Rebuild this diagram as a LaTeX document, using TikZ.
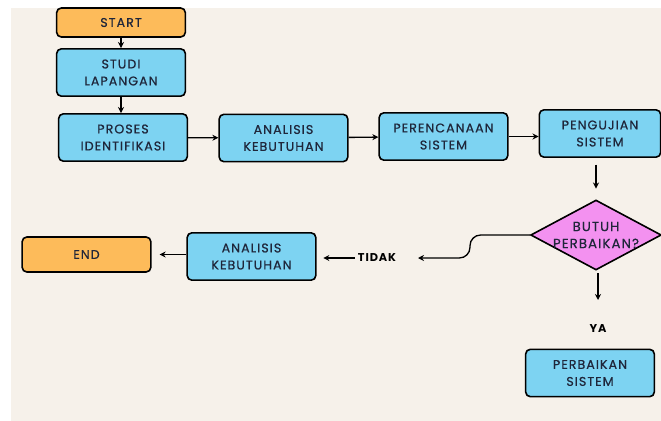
\documentclass[tikz,border=0pt]{standalone}
\usepackage{fontspec}
\setmainfont{Poppins}[LetterSpace=8]
\newfontfamily\boxfont{Poppins}[LetterSpace=8, FakeBold=0.5]
\usetikzlibrary{shapes.geometric,arrows.meta}

\definecolor{bgcream}{RGB}{246,241,234}
\definecolor{boxblue}{RGB}{125,211,242}
\definecolor{boxorange}{RGB}{253,187,90}
\definecolor{boxpink}{RGB}{243,145,240}
\definecolor{inkdark}{RGB}{31,38,58}

\tikzset{every picture/.style={line width=0.75pt}}
\tikzset{
	procbox/.style={draw=black, line width=1.2pt, rounded corners=3.5pt, fill=boxblue,
		text=inkdark, align=center, inner sep=0pt, minimum width=96.5pt, minimum height=35.5pt,
		font=\boxfont\fontsize{9.5}{12.75}\selectfont},
	termbox/.style={procbox, fill=boxorange},
	decisionbox/.style={draw=black, line width=1.2pt, shape=diamond, aspect=1.9, fill=boxpink,
		text=inkdark, align=center, inner xsep=-8pt, inner ysep=-4pt, minimum width=98pt, minimum height=52.5pt,
		font=\boxfont\fontsize{10}{12.75}\selectfont},
	flowlabel/.style={text=black, inner sep=2pt, font=\fontsize{8.5}{10}\selectfont\bfseries},
	flowarrow/.style={draw=black, line width=1pt, -{Stealth[length=4.5pt,width=4.5pt]}}}

\begin{document}
\begin{tikzpicture}[x=0.75pt,y=0.75pt,yscale=-1,xscale=1]
	%set diagram: 661 x 421
	\useasboundingbox (0,0) rectangle (661,421);
	%Shape: Rectangle (background)
	\fill [bgcream] (11,8) rectangle (661,421);

	%Shape: Terminator
	\node [termbox, minimum height=21.75pt] (start) at (121,22.5) {START};
	%Shape: Process
	\node [procbox] (studi) at (121,72.5) {STUDI\\LAPANGAN};
	%Shape: Process
	\node [procbox] (proses) at (123,137.5) {PROSES\\IDENTIFIKASI};
	%Shape: Process
	\node [procbox] (analisisA) at (283.5,138) {ANALISIS\\KEBUTUHAN};
	%Shape: Process
	\node [procbox] (rencana) at (443.5,136.5) {PERENCANAAN\\SISTEM};
	%Shape: Process
	\node [procbox, minimum width=91pt] (uji) at (600,133.5) {PENGUJIAN\\SISTEM};
	%Shape: Decision
	\node [decisionbox] (butuh) at (596,235) {BUTUH\\PERBAIKAN?};
	%Shape: Process
	\node [procbox] (analisisB) at (251.5,256.5) {ANALISIS\\KEBUTUHAN};
	%Shape: Terminator
	\node [termbox, minimum height=26.25pt] (end) at (86.5,254.5) {END};
	%Shape: Process
	\node [procbox] (perbaikan) at (590,373) {PERBAIKAN\\SISTEM};

	% Text Node
	\node [flowlabel] (tidak) at (377,258) {TIDAK};
	% Text Node
	\node [flowlabel] (ya) at (598,329) {YA};
	\coordinate (tidakin) at (418,258);
	\coordinate (yain) at (598,300);

	%Straight Lines
	\draw [flowarrow] (start) -- (studi);
	\draw [flowarrow] (studi) -- (studi |- proses.north);
	\draw [flowarrow] (proses) -- (analisisA);
	\draw [flowarrow] (analisisA) -- (rencana);
	\draw [flowarrow] (rencana.east) -- (uji.west |- rencana.east);
	\draw [flowarrow, shorten <=5pt, shorten >=8pt] (uji.south -| butuh) -- (butuh.north);
	%Curve Lines
	\draw [flowarrow, rounded corners=8pt] (butuh.west) -| (470,258) -- (tidakin);
	\draw [flowarrow, shorten >=5pt] (tidak.west) -- (analisisB.east |- tidak.west);
	\draw [flowarrow, shorten >=6pt] (analisisB.west |- end.east) -- (end.east);
	\draw [flowarrow, shorten <=2pt] (butuh.south -| yain) -- (yain);
\end{tikzpicture}
\end{document}
